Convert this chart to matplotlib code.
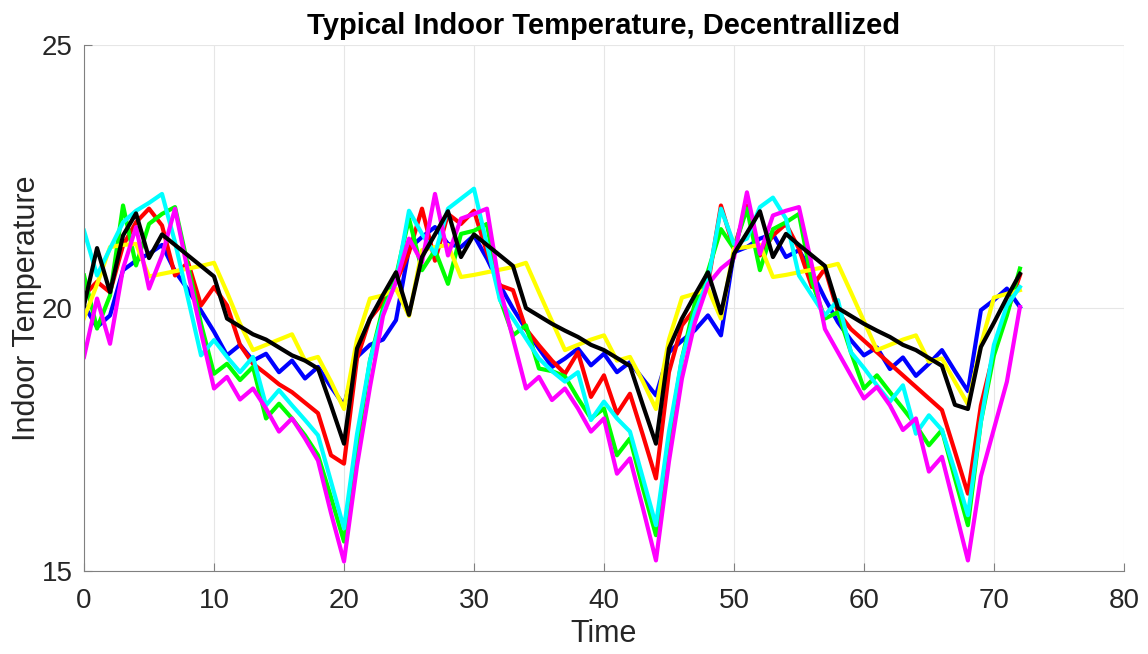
import matplotlib.pyplot as plt

# indoor temperature per hour, one series per zone
time = list(range(73))

temp_blue = [20.05, 19.64, 19.86, 20.72, 20.9, 21.03, 21.2, 20.7, 20.35, 19.95,
             19.55, 19.1, 19.3, 19.0, 19.13, 18.78, 19.0, 18.66, 18.88, 18.5,
             18.15, 19.07, 19.3, 19.4, 19.77, 21.13, 21.35, 21.54, 21.22, 21.16,
             21.38, 20.94, 20.43, 19.99, 19.6, 19.23, 18.88, 19.04, 19.23, 18.91,
             19.13, 18.78, 18.97, 18.65, 18.34, 19.16, 19.38, 19.58, 19.86, 19.48,
             21.06, 21.16, 21.32, 21.41, 20.97, 21.1, 20.68, 20.18, 19.73, 19.39,
             19.1, 19.25, 18.84, 19.06, 18.71, 18.94, 19.2, 18.8, 18.42, 19.96,
             20.15, 20.37, 20.02]

temp_red = [20.24, 20.5, 20.3, 21.19, 21.63, 21.89, 21.57, 20.62, 20.87, 20.05,
            20.4, 20.05, 19.3, 18.94, 18.75, 18.55, 18.4, 18.2, 18.0, 17.2,
            17.04, 19.04, 19.8, 20.11, 20.49, 21.06, 21.89, 20.9, 21.79, 21.6,
            21.85, 21.06, 20.43, 20.34, 19.6, 19.29, 19.0, 18.75, 19.16, 18.31,
            18.72, 17.99, 18.37, 17.58, 16.76, 18.78, 19.67, 19.99, 20.45, 21.95,
            21.13, 21.95, 21.0, 21.38, 21.6, 21.13, 20.4, 20.75, 19.92, 19.6,
            19.38, 19.16, 18.94, 18.72, 18.5, 18.28, 18.06, 17.27, 16.47, 18.15,
            19.16, 19.92, 20.62]

temp_green = [20.62, 19.61, 20.24, 21.95, 20.81, 21.6, 21.79, 21.92, 20.8, 19.7,
              18.75, 18.94, 18.63, 18.88, 17.9, 18.18, 17.9, 17.58, 17.2, 16.4,
              15.56, 17.4, 19.0, 20.0, 20.6, 21.7, 20.72, 21.1, 20.46, 21.41,
              21.47, 21.6, 20.18, 19.48, 19.67, 18.85, 18.8, 18.7, 18.28, 17.9,
              18.09, 17.2, 17.52, 16.57, 15.68, 17.5, 19.04, 20.1, 20.7, 21.5,
              21.13, 21.89, 20.72, 21.5, 21.63, 21.79, 20.5, 19.8, 19.92, 19.16,
              18.47, 18.72, 18.4, 18.09, 17.77, 17.39, 17.68, 16.76, 15.87, 17.84,
              19.1, 19.86, 20.75]

temp_yellow = [19.81, 20.45, 21.16, 21.2, 21.22, 20.6, 20.65, 20.7, 20.75, 20.8,
               20.86, 20.3, 19.7, 19.2, 19.3, 19.4, 19.5, 19.0, 19.07, 18.6,
               18.08, 19.4, 20.18, 20.24, 20.37, 19.85, 21.1, 21.16, 21.2, 20.59,
               20.63, 20.68, 20.73, 20.78, 20.86, 20.3, 19.75, 19.2, 19.3, 19.4,
               19.48, 19.0, 19.07, 18.6, 18.08, 19.4, 20.2, 20.27, 20.37, 19.8,
               21.13, 21.16, 21.2, 20.59, 20.63, 20.68, 20.73, 20.78, 20.84, 20.3,
               19.75, 19.2, 19.3, 19.4, 19.48, 18.98, 19.04, 18.6, 18.17, 19.3,
               20.2, 20.27, 20.34]

temp_cyan = [21.47, 20.62, 21.13, 21.63, 21.85, 22.0, 22.17, 21.25, 20.18, 19.1,
             19.39, 19.07, 18.78, 19.07, 18.15, 18.44, 18.15, 17.87, 17.58, 16.7,
             15.81, 17.6, 19.0, 19.9, 20.5, 21.85, 21.41, 21.03, 21.89, 22.08,
             22.27, 21.2, 20.15, 19.8, 19.42, 19.04, 18.8, 18.6, 18.78, 17.87,
             18.22, 17.9, 17.65, 16.76, 15.87, 17.65, 19.04, 19.92, 20.52, 21.89,
             21.22, 21.32, 21.92, 22.1, 21.7, 20.62, 20.24, 19.86, 20.15, 19.16,
             18.86, 18.53, 18.22, 18.53, 17.61, 17.96, 17.68, 16.9, 16.06, 17.84,
             19.3, 20.05, 20.4]

temp_magenta = [19.07, 20.18, 19.32, 20.75, 21.54, 20.37, 21.0, 21.89, 20.68, 19.54,
                18.47, 18.69, 18.26, 18.47, 18.09, 17.65, 17.9, 17.52, 17.1, 16.1,
                15.18, 17.0, 18.5, 19.85, 20.5, 21.32, 20.87, 22.17, 21.0, 21.7,
                21.79, 21.89, 20.37, 19.42, 18.47, 18.69, 18.25, 18.47, 18.09, 17.65,
                17.9, 16.85, 17.14, 16.19, 15.2, 17.08, 18.66, 19.73, 20.45, 20.75,
                20.95, 22.2, 21.03, 21.76, 21.85, 21.92, 20.81, 19.6, 19.16, 18.72,
                18.28, 18.5, 18.15, 17.68, 17.9, 16.89, 17.17, 16.19, 15.2, 16.8,
                17.7, 18.6, 20.02]

temp_black = [20.05, 21.14, 20.3, 21.38, 21.8, 20.95, 21.4, 21.2, 21.0, 20.8,
              20.6, 19.8, 19.65, 19.5, 19.4, 19.25, 19.1, 19.0, 18.85, 18.15,
              17.42, 19.23, 19.8, 20.25, 20.68, 19.87, 20.97, 21.4, 21.84, 20.97,
              21.4, 21.2, 21.0, 20.8, 20.0, 19.85, 19.7, 19.57, 19.45, 19.3,
              19.2, 19.05, 18.9, 18.15, 17.42, 19.23, 19.8, 20.25, 20.68, 19.9,
              21.03, 21.43, 21.84, 20.97, 21.41, 21.2, 21.0, 20.8, 20.0, 19.85,
              19.7, 19.57, 19.45, 19.3, 19.2, 19.05, 18.9, 18.16, 18.08, 19.26,
              19.72, 20.2, 20.65]

series = [
    (temp_blue, 'b'),
    (temp_red, 'r'),
    (temp_green, (0, 1, 0)),
    (temp_yellow, (1, 1, 0)),
    (temp_cyan, (0, 1, 1)),
    (temp_magenta, (1, 0, 1)),
    (temp_black, 'k'),
]

plt.rcParams['font.family'] = ['Liberation Sans', 'DejaVu Sans']

fig = plt.figure(figsize=(11.48, 6.54), dpi=100)
ax = fig.add_axes([0.0732, 0.127, 0.9058, 0.804])

for values, color in series:
    ax.plot(time, values, color=color, linewidth=3.0)

ax.set_xlim(0, 80)
ax.set_ylim(15, 25)
ax.set_xticks(range(0, 81, 10))
ax.set_yticks([15, 20, 25])
ax.grid(True, color=(0.9, 0.9, 0.9), linewidth=0.8)
ax.set_axisbelow(True)

for side in ['top', 'right']:
    ax.spines[side].set_visible(False)
for side in ['left', 'bottom']:
    ax.spines[side].set_color((0.5, 0.5, 0.5))
ax.tick_params(direction='in', length=6, colors=(0.5, 0.5, 0.5),
               labelcolor=(0.15, 0.15, 0.15), labelsize=20)
ax.tick_params(axis='x', pad=12)
ax.tick_params(axis='y', pad=8)

ax.set_xlabel('Time', fontsize=22, color=(0.15, 0.15, 0.15), labelpad=4)
ax.set_ylabel('Indoor Temperature', fontsize=22, color=(0.15, 0.15, 0.15), labelpad=0)
ax.set_title('Typical Indoor Temperature, Decentrallized', fontsize=21,
             fontweight='bold', pad=8)

fig.savefig('out.png', dpi=100)
